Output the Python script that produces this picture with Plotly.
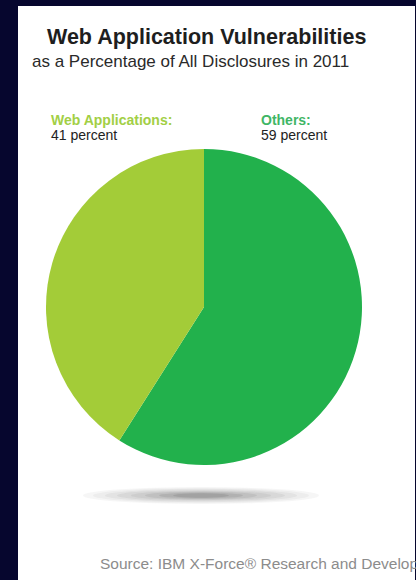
import plotly.graph_objects as go

# Share of all 2011 vulnerability disclosures
categories = ["Others", "Web Applications"]
shares = [59, 41]
slice_colors = ["#22b14c", "#a3cc38"]
label_colors = ["#3fb666", "#a2cf45"]
label_x_px = [259, 49]

title_text = "Web Application Vulnerabilities"
subtitle_text = "as a Percentage of All Disclosures in 2011"
source_text = "Source: IBM X-Force\u00ae Research and Development"

W, H = 416, 580
NAVY = "#06062e"
FONT = "Liberation Sans, Arial, Helvetica, sans-serif"


def px_x(x):
    return x / W


def px_y(y):
    return 1 - y / H


# pie placement (pixel centre and diameter)
cx, cy, d = 204, 307, 316

fig = go.Figure()
fig.add_trace(
    go.Pie(
        labels=categories,
        values=shares,
        sort=False,
        direction="clockwise",
        rotation=0,
        marker=dict(colors=slice_colors, line=dict(width=0)),
        textinfo="none",
        hoverinfo="skip",
        showlegend=False,
        domain=dict(
            x=[px_x(cx - d / 2), px_x(cx + d / 2)],
            y=[px_y(cy + d / 2), px_y(cy - d / 2)],
        ),
    )
)

shapes = [
    # white card on the navy background
    dict(type="rect", xref="paper", yref="paper",
         x0=px_x(18), x1=px_x(415), y0=0, y1=px_y(6),
         fillcolor="white", line=dict(width=0), layer="below"),
]
# soft floor shadow under the pie: stacked faint ellipses
sx, sy = 201, 495.5
for half_w, half_h, op in [
    (118, 8.5, 0.05),
    (108, 7.5, 0.05),
    (96, 6.5, 0.06),
    (84, 5.5, 0.07),
    (70, 4.5, 0.08),
    (56, 3.8, 0.10),
    (42, 3.0, 0.12),
    (28, 2.2, 0.14),
]:
    shapes.append(dict(type="circle", xref="paper", yref="paper",
                       x0=px_x(sx - half_w), x1=px_x(sx + half_w),
                       y0=px_y(sy + half_h), y1=px_y(sy - half_h),
                       fillcolor="#4a4a4a", opacity=op, line=dict(width=0),
                       layer="below"))

annotations = [
    dict(text=f"<b>{title_text}</b>", x=px_x(45), y=px_y(37),
         font=dict(size=21.5, color="#1e1e1e", family=FONT)),
    dict(text=subtitle_text, x=px_x(30), y=px_y(62),
         font=dict(size=17, color="#2a2a2a", family=FONT)),
    dict(text=source_text, x=px_x(98), y=px_y(563),
         font=dict(size=15.5, color="#8c8c8c", family=FONT)),
]
for name, val, col, lx in zip(categories, shares, label_colors, label_x_px):
    annotations.append(dict(text=f"<b>{name}:</b>", x=px_x(lx), y=px_y(120),
                            font=dict(size=14, color=col, family=FONT)))
    annotations.append(dict(text=f"{val} percent", x=px_x(lx), y=px_y(135),
                            font=dict(size=14, color="#222222", family=FONT)))
for a in annotations:
    a.update(xref="paper", yref="paper", xanchor="left", yanchor="middle",
             showarrow=False)

fig.update_layout(
    width=W, height=H,
    margin=dict(l=0, r=0, t=0, b=0),
    paper_bgcolor=NAVY,
    plot_bgcolor=NAVY,
    shapes=shapes,
    annotations=annotations,
)

fig.write_html("out.html", config={"displayModeBar": False})
